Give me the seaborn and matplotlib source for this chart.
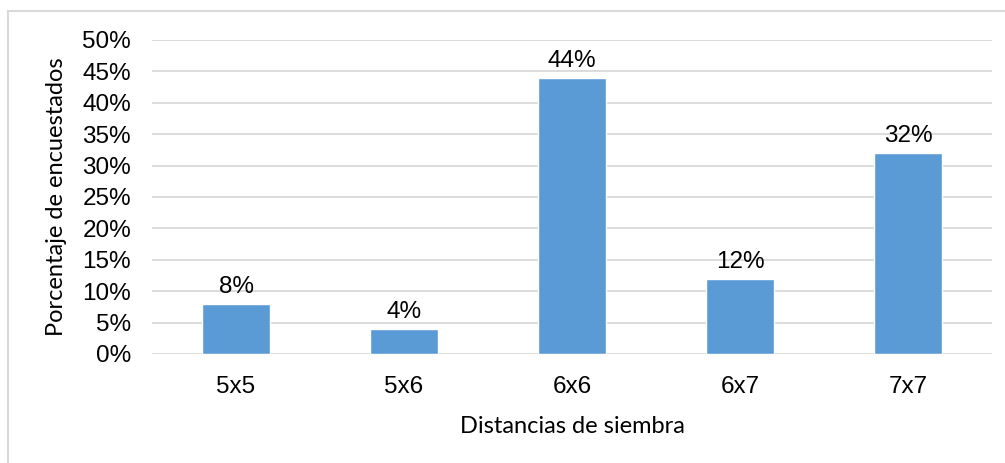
import matplotlib
matplotlib.use("Agg")
import matplotlib.pyplot as plt
import seaborn as sns
import pandas as pd
from matplotlib.lines import Line2D
from matplotlib.ticker import MultipleLocator, FuncFormatter

# Survey results: share of respondents per planting distance
distancias = ["5x5", "5x6", "6x6", "6x7", "7x7"]
porcentajes = [0.08, 0.04, 0.44, 0.12, 0.32]

df = pd.DataFrame({"Distancia": distancias, "Porcentaje": porcentajes})

sns.set_theme(style="white")
plt.rcParams["font.family"] = ["Liberation Sans", "DejaVu Sans"]
plt.rcParams["text.color"] = "black"

fig = plt.figure(figsize=(10.05, 4.63), dpi=100)
ax = fig.add_axes([152 / 1005, 1 - 354 / 463, 840 / 1005, 314 / 463])

sns.barplot(data=df, x="Distancia", y="Porcentaje", color="#5B9BD5",
            saturation=1, width=0.4, ax=ax, zorder=3)

ax.set_ylim(0, 0.5)
ax.set_xlim(-0.5, len(distancias) - 0.5)
ax.yaxis.set_major_locator(MultipleLocator(0.05))
ax.yaxis.set_major_formatter(FuncFormatter(lambda v, _: f"{v * 100:.0f}%"))
ax.grid(axis="y", color="#D9D9D9", linewidth=1.3, zorder=0)
for s in ax.spines.values():
    s.set_visible(False)
ax.tick_params(axis="both", length=0, labelsize=17.5, colors="black")
ax.tick_params(axis="y", pad=15)
ax.tick_params(axis="x", pad=16)

for container in ax.containers:
    ax.bar_label(container, labels=[f"{v * 100:.0f}%" for v in porcentajes],
                 padding=4, fontsize=17.5, color="black")

ax.set_xlabel("Distancias de siembra", fontsize=17, family=["Lato", "DejaVu Sans"],
              color="black", labelpad=13)
ax.set_ylabel("Porcentaje de encuestados", fontsize=17, family=["Lato", "DejaVu Sans"],
              color="black", labelpad=11)

# Chart-area frame (top and left edges)
fig.add_artist(Line2D([8 / 1005, 1.0], [1 - 11 / 463, 1 - 11 / 463],
                      transform=fig.transFigure, color="#D9D9D9", linewidth=1.5))
fig.add_artist(Line2D([8 / 1005, 8 / 1005], [0.0, 1 - 11 / 463],
                      transform=fig.transFigure, color="#D9D9D9", linewidth=1.5))

fig.savefig("out.png", dpi=100, facecolor="white")
